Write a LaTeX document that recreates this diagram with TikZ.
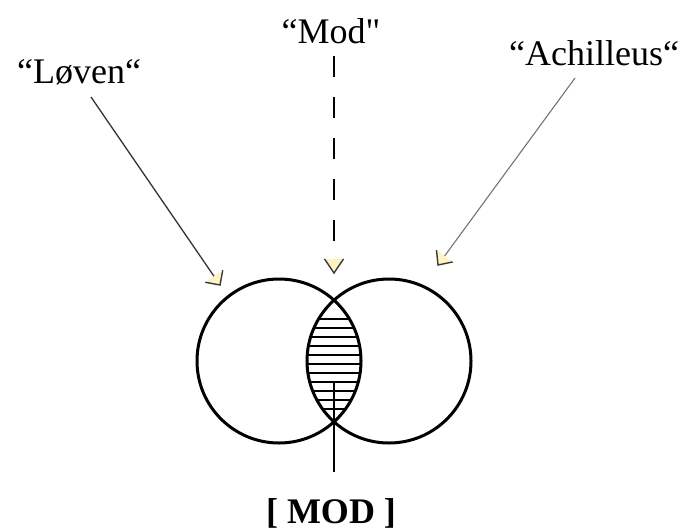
\documentclass[tikz,border=0pt]{standalone}
\usepackage{fontspec}
\setmainfont{Liberation Serif}[Ligatures=TeXOff]
\usetikzlibrary{calc}
\definecolor{cream}{HTML}{FFF3C2}
\definecolor{edgegray}{HTML}{3A3A3A}
\newcommand\creamhead[4]{% tip, from, half angle, side
  \fill[cream] (#1) -- ($(#1)!#4!#3:(#2)$) -- ($(#1)!#4!-#3:(#2)$) -- cycle;
  \draw[headedge] ($(#1)!#4!#3:(#2)$) -- (#1) -- ($(#1)!#4!-#3:(#2)$);}
\begin{document}
\begin{tikzpicture}[x=1pt,y=-1pt,
  lbl/.style={inner sep=0pt, anchor=base, font=\fontsize{36}{40}\selectfont},
  vennc/.style={circle, draw=black, line width=3pt, minimum size=164pt, inner sep=0pt},
  hatch/.style={draw=black, line width=1.5pt},
  headedge/.style={draw=edgegray, line width=1.4pt, line join=miter},
  lovenline/.style={draw=black!80, line width=1.3pt},
  modline/.style={draw=black, line width=1.5pt, dash pattern=on 21pt off 20pt},
  achline/.style={draw=black!55, line width=1.1pt}]
\useasboundingbox (0,0) rectangle (687,530);
% labels
\node[lbl] (loven) at (79,83) {“Løven“};
\node[lbl] (mod) at (331,43) {“Mod"};
\node[lbl] (ach) at (594,65) {“Achilleus“};
\node[lbl, font=\fontsize{36}{40}\selectfont\bfseries] (res) at (331,523) {[ MOD ]};
% circles
\node[vennc] (L) at (279,361) {};
\node[vennc] (R) at (389,361) {};
% hatching of the lens
\begin{scope}
  \clip (279,361) circle (82pt);
  \clip (389,361) circle (82pt);
  \foreach \yy in {319,328,...,409} \draw[hatch] (300,\yy) -- (370,\yy);
\end{scope}
% connector coordinates
\coordinate (lovenS) at (91,97);
\coordinate (lovenT) at (220,285);
\coordinate (modS) at (334,56);
\coordinate (modT) at (334,273);
\coordinate (achS) at (575,78);
\coordinate (achT) at (438,265);
\coordinate (lensB) at (334,383);
\coordinate (resT) at (334,472);
% connectors
\draw[lovenline] (lovenS) -- ($(lovenT)!6pt!(lovenS)$);
\creamhead{lovenT}{lovenS}{45}{15pt}
\draw[modline] (modS) -- ($(modT)!8pt!(modS)$);
\creamhead{modT}{modS}{34}{17pt}
\draw[achline] (achS) -- ($(achT)!6pt!(achS)$);
\creamhead{achT}{achS}{42}{15pt}
\draw[line width=1.4pt] (lensB) -- (resT);
\end{tikzpicture}
\end{document}
